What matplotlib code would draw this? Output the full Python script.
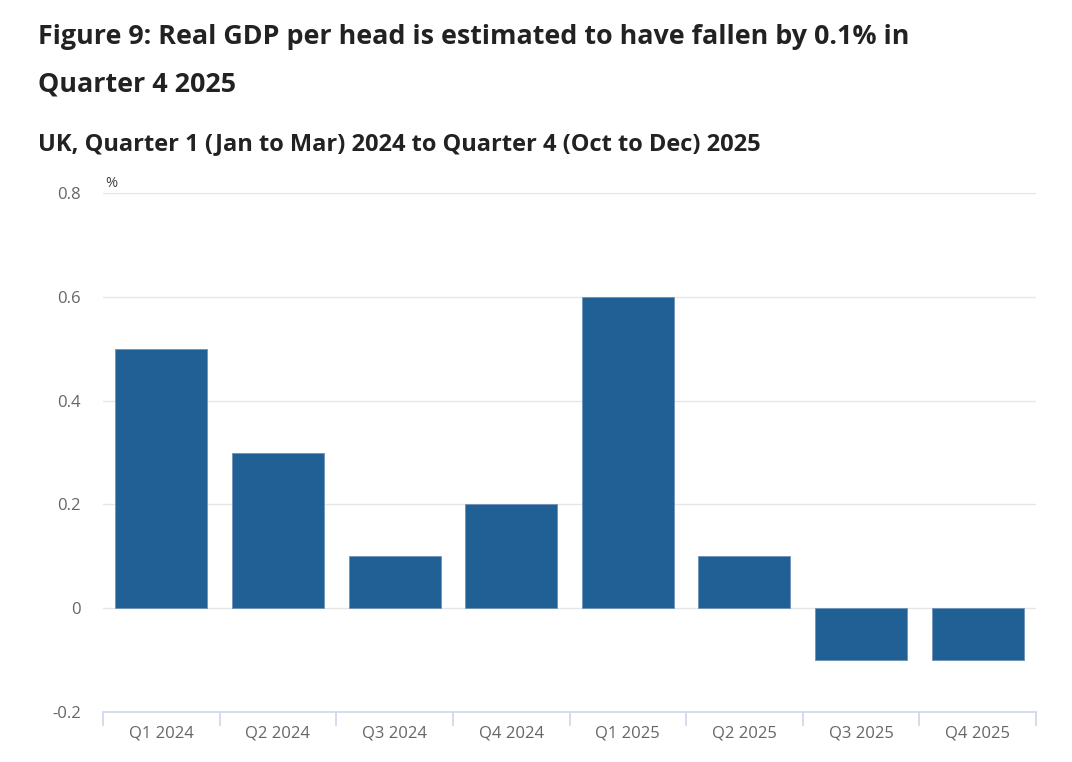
import matplotlib
matplotlib.use('Agg')
import matplotlib.pyplot as plt
import numpy as np

QUARTERS = ['Q1 2024', 'Q2 2024', 'Q3 2024', 'Q4 2024',
            'Q1 2025', 'Q2 2025', 'Q3 2025', 'Q4 2025']
GDP_PER_HEAD = [0.5, 0.3, 0.1, 0.2, 0.6, 0.1, -0.1, -0.1]
YTICKS = [-0.2, 0, 0.2, 0.4, 0.6, 0.8]
YTICK_LABELS = ['-0.2', '0', '0.2', '0.4', '0.6', '0.8']

plt.rcParams['font.family'] = ['Open Sans', 'DejaVu Sans']

fig = plt.figure(figsize=(10.72, 7.62), dpi=100)
ax = fig.add_axes([0.0961, 0.0656, 0.8703, 0.6811])

x = np.arange(len(QUARTERS))
ax.bar(x, GDP_PER_HEAD, width=0.79, color='#206095',
       edgecolor='#6f92b8', linewidth=0.6, zorder=3)

ax.set_xlim(-0.5, len(QUARTERS) - 0.5)
ax.set_ylim(-0.2, 0.8)
ax.set_yticks(YTICKS)
ax.set_yticklabels(YTICK_LABELS)
ax.set_xticks(x)
ax.set_xticklabels(QUARTERS)
ax.set_xticks(np.arange(-0.5, len(QUARTERS)), minor=True)

ax.grid(axis='y', color='#e6e6e6', linewidth=1, zorder=0)
for s in ['top', 'right', 'left']:
    ax.spines[s].set_visible(False)
ax.spines['bottom'].set_color('#ccd6eb')
ax.spines['bottom'].set_linewidth(1.2)

ax.tick_params(axis='y', length=0, pad=16, labelsize=12, labelcolor='#666666')
ax.tick_params(axis='x', which='major', length=0, pad=10,
               labelsize=12, labelcolor='#666666')
ax.tick_params(axis='x', which='minor', length=10, width=1.2, color='#ccd6eb')

ax.text(0.002, 1.003, '%', transform=ax.transAxes, fontsize=10.5,
        color='#414042', ha='left', va='bottom')

fig.text(0.0355, 0.952, 'Figure 9: Real GDP per head is estimated to have fallen by 0.1% in',
         fontsize=19.4, fontweight='bold', color='#222222', ha='left', va='center')
fig.text(0.0355, 0.889, 'Quarter 4 2025',
         fontsize=19.4, fontweight='bold', color='#222222', ha='left', va='center')
fig.text(0.0355, 0.811, 'UK, Quarter 1 (Jan to Mar) 2024 to Quarter 4 (Oct to Dec) 2025',
         fontsize=17, fontweight='bold', color='#222222', ha='left', va='center')

fig.savefig('out.png', dpi=100)
